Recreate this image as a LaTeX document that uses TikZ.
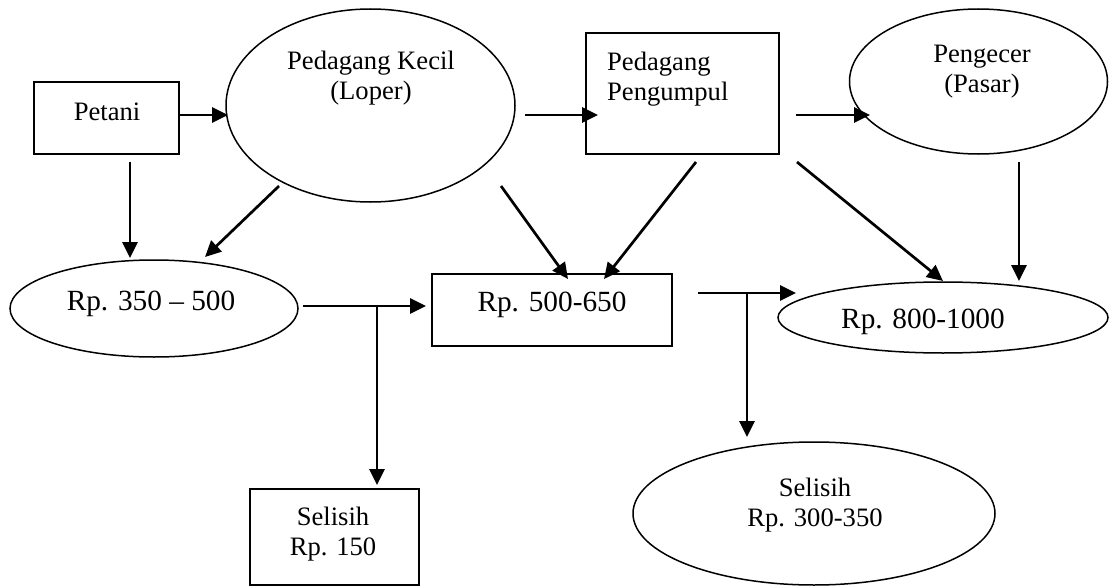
\documentclass[tikz,border=0pt]{standalone}
\usepackage{fontspec}
\setmainfont{Liberation Serif}
\usetikzlibrary{arrows.meta,shapes.geometric}
\begin{document}
\begin{tikzpicture}[x=1pt,y=-1pt,
  box/.style={draw,line width=1.5pt,rectangle,inner sep=0pt},
  oval/.style={draw,line width=1.5pt,ellipse,inner sep=0pt},
  txt/.style={inner sep=0pt,align=center,font=\fontsize{26.6pt}{30pt}\selectfont},
  rptxt/.style={inner sep=0pt,align=center,font=\fontsize{29.3pt}{32pt}\selectfont},
  arr/.style={line width=2.7pt,-{Triangle[length=16pt,width=15pt]}},
  ln/.style={line width=2.7pt}]
\useasboundingbox (0,0) rectangle (1109,586);
% shapes
\node[box,minimum width=145pt,minimum height=72pt] (petani) at (106.5,118) {};
\node[oval,minimum width=289pt,minimum height=193pt] (kecil) at (370.5,105.5) {};
\node[box,minimum width=193pt,minimum height=121pt] (pengumpul) at (682.5,93.5) {};
\node[oval,minimum width=258pt,minimum height=145pt] (pengecer) at (978.5,81.5) {};
\node[oval,minimum width=288pt,minimum height=97pt] (rpa) at (154,308.5) {};
\node[box,minimum width=240pt,minimum height=72pt] (rpb) at (552,310) {};
\node[oval,minimum width=330pt,minimum height=71pt] (rpc) at (943,317.5) {};
\node[box,minimum width=169pt,minimum height=96pt] (selA) at (334.5,537) {};
\node[oval,minimum width=362pt,minimum height=143pt] (selB) at (814,513.5) {};
% texts
\node[txt] (tpetani) at (107,112) {Petani};
\node[txt] (tkecil) at (371,78) {Pedagang Kecil\\(Loper)};
\node[txt,align=left,anchor=west] (tpengumpul) at (607,79) {Pedagang\\Pengumpul};
\node[txt] (tpengecer) at (982,72) {Pengecer\\(Pasar)};
\node[rptxt] (trpa) at (151,304) {Rp. 350 -- 500};
\node[rptxt] (trpb) at (552,305) {Rp. 500-650};
\node[rptxt] (trpc) at (923,322) {Rp. 800-1000};
\node[txt] (tselA) at (333,534) {Selisih\\Rp. 150};
\node[txt] (tselB) at (815,505) {Selisih\\Rp. 300-350};
% connector end points
\coordinate (a1s) at (180,115);  \coordinate (a1e) at (228,115);
\coordinate (a2s) at (525,115);  \coordinate (a2e) at (598,115);
\coordinate (a3s) at (796,115);  \coordinate (a3e) at (870,115);
\coordinate (a4s) at (130,162);  \coordinate (a4e) at (130,258);
\coordinate (a5s) at (279,186);  \coordinate (a5e) at (205,257);
\coordinate (a6s) at (501,186);  \coordinate (a6e) at (568,279);
\coordinate (a7s) at (696,162);  \coordinate (a7e) at (604,279);
\coordinate (a8s) at (797,162);  \coordinate (a8e) at (943,281);
\coordinate (a9s) at (1019,162); \coordinate (a9e) at (1019,281);
\coordinate (b1s) at (303,306);  \coordinate (b1j) at (377,306); \coordinate (b1e) at (426,306);
\coordinate (b1d) at (377,485);
\coordinate (b2s) at (698,293);  \coordinate (b2j) at (747,293); \coordinate (b2e) at (796,293);
\coordinate (b2d) at (747,437);
% connectors
\draw[arr] (a1s) -- (a1e);
\draw[arr] (a2s) -- (a2e);
\draw[arr] (a3s) -- (a3e);
\draw[arr] (a4s) -- (a4e);
\draw[arr] (a5s) -- (a5e);
\draw[arr] (a6s) -- (a6e);
\draw[arr] (a7s) -- (a7e);
\draw[arr] (a8s) -- (a8e);
\draw[arr] (a9s) -- (a9e);
\draw[arr] (b1s) -- (b1e);
\draw[arr] (b1j) -- (b1d);
\draw[arr] (b2s) -- (b2e);
\draw[arr] (b2j) -- (b2d);
\end{tikzpicture}
\end{document}
